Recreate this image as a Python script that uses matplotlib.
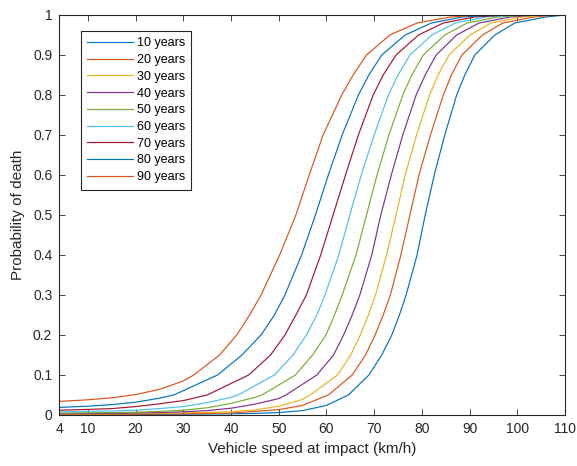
import numpy as np
import matplotlib
matplotlib.use('Agg')
import matplotlib.pyplot as plt

plt.rcParams['font.family'] = ['Liberation Sans', 'DejaVu Sans']

nan = np.nan

# ages of the pedestrian (one curve each)
ages = [10, 20, 30, 40, 50, 60, 70, 80, 90]
colors = ['#0072BD', '#D95319', '#EDB120', '#7E2F8E', '#77AC30',
          '#4DBEEE', '#A2142F', '#0072BD', '#D95319']

# flat tail: probability read at fixed speeds (nan = already on the rise)
tail_speeds = [4, 10, 15, 20, 25, 30, 35, 40, 45, 50, 55, 60]
tail_10 = [.0008, .0009, .001, .0012, .0015, .002, .0025, .003, .004, .006, .011, .024]
tail_20 = [.0013, .0015, .0017, .002, .0024, .003, .0038, .005, .009, .0135, .024, nan]
tail_30 = [.002, .0025, .003, .0035, .0045, .0055, .0065, .008, .0125, .022, .039, nan]
tail_40 = [.003, .0035, .004, .005, .006, .008, .011, .017, .027, .041, nan, nan]
tail_50 = [.005, .0055, .006, .007, .009, .012, .018, .029, .044, nan, nan, nan]
tail_60 = [.008, .009, .010, .012, .016, .021, .031, .044, nan, nan, nan, nan]
tail_70 = [.012, .014, .016, .021, .028, .036, nan, nan, nan, nan, nan, nan]
tail_80 = [.019, .022, .026, .032, .042, nan, nan, nan, nan, nan, nan, nan]
tail_90 = [.034, .038, .043, .051, .064, .085, nan, nan, nan, nan, nan, nan]

# rise: speed (km/h) at which each curve crosses these probabilities
levels = [0.05, 0.1, 0.15, 0.2, 0.25, 0.3, 0.4, 0.5, 0.6, 0.7, 0.8, 0.85, 0.9,
          0.95, 0.98, 0.995, 1.0]
rise_10 = [64.6, 68.9, 71.6, 73.7, 75.3, 76.7, 79.0, 80.7, 82.6, 84.8, 87.3, 89.0, 91.1, 95.3, 99.5, 106.0, 110]
rise_20 = [60.4, 65.4, 68.2, 70.2, 71.9, 73.4, 75.6, 77.5, 79.4, 81.8, 84.5, 86.2, 88.4, 92.7, 97.0, 103.5, 108]
rise_30 = [56.6, 62.3, 65.1, 67.1, 68.8, 70.3, 72.6, 74.6, 76.5, 78.9, 81.6, 83.4, 85.7, 90.1, 94.5, 101.0, 106]
rise_40 = [51.5, 58.0, 61.5, 63.6, 65.4, 67.0, 69.5, 71.4, 73.6, 76.0, 78.8, 80.7, 83.0, 87.3, 92.0, 98.5, 104]
rise_50 = [46.5, 53.5, 57.1, 59.9, 61.7, 63.3, 66.2, 68.4, 70.6, 73.1, 76.0, 77.9, 80.3, 84.8, 89.5, 96.0, 102]
rise_60 = [41.5, 49.1, 53.0, 55.8, 58.0, 59.7, 62.6, 64.9, 67.3, 70.0, 73.0, 75.0, 77.5, 82.1, 87.0, 93.5, 100]
rise_70 = [35.0, 43.7, 48.3, 51.3, 53.6, 55.8, 58.8, 61.4, 64.0, 66.7, 69.8, 71.9, 74.6, 79.3, 84.5, 91.0, 98]
rise_80 = [28.0, 37.2, 42.3, 46.3, 49.1, 51.3, 54.8, 57.7, 60.4, 63.3, 66.7, 68.9, 71.6, 76.5, 82.0, 88.5, 95]
rise_90 = [nan, 32.2, 37.6, 41.2, 43.9, 46.3, 50.2, 53.6, 56.4, 59.3, 63.2, 65.6, 68.4, 73.3, 79.0, 86.0, 92]

tails = [tail_10, tail_20, tail_30, tail_40, tail_50, tail_60, tail_70, tail_80, tail_90]
rises = [rise_10, rise_20, rise_30, rise_40, rise_50, rise_60, rise_70, rise_80, rise_90]

W, H = 577, 466
fig = plt.figure(figsize=(W / 100, H / 100), dpi=100)
ax = fig.add_axes([59.2 / W, 1 - 415 / H, (565 - 59.2) / W, 400 / H])

lv = np.array(levels)
ts = np.array(tail_speeds)
for age, col, tail, rise in zip(ages, colors, tails, rises):
    tail = np.array(tail, dtype=float)
    rise = np.array(rise, dtype=float)
    ok = ~np.isnan(rise)
    first = lv[ok][0]
    keep = ~np.isnan(tail) & (tail < first)
    x = np.concatenate([ts[keep], rise[ok]])
    y = np.concatenate([tail[keep], lv[ok]])
    ax.plot(x, y, color=col, lw=0.85, label=f'{age} years')

gray = '#262626'
ax.set_xlim(4, 110)
ax.set_ylim(0, 1)
ax.set_xticks([4, 10, 20, 30, 40, 50, 60, 70, 80, 90, 100, 110])
ax.set_yticks(np.round(np.arange(0, 1.01, 0.1), 1))
ax.set_yticklabels(['0', '0.1', '0.2', '0.3', '0.4', '0.5', '0.6', '0.7', '0.8', '0.9', '1'])
ax.tick_params(direction='in', top=True, right=True, length=4, width=0.6,
               colors=gray, labelsize=10, pad=5)
for s in ax.spines.values():
    s.set_color(gray)
    s.set_linewidth(0.8)

ax.set_xlabel('Vehicle speed at impact (km/h)', fontsize=11, color=gray, labelpad=4)
ax.set_ylabel('Probability of death', fontsize=11, color=gray, labelpad=6)

leg = ax.legend(loc='upper left', bbox_to_anchor=(0.0425, 0.96), fontsize=9,
                fancybox=False, edgecolor=gray, framealpha=1,
                handlelength=3.7, handletextpad=0.3, labelspacing=0.38,
                borderpad=0.5, borderaxespad=0)
leg.get_frame().set_linewidth(0.8)

fig.savefig('out.png', dpi=100, facecolor='white')
